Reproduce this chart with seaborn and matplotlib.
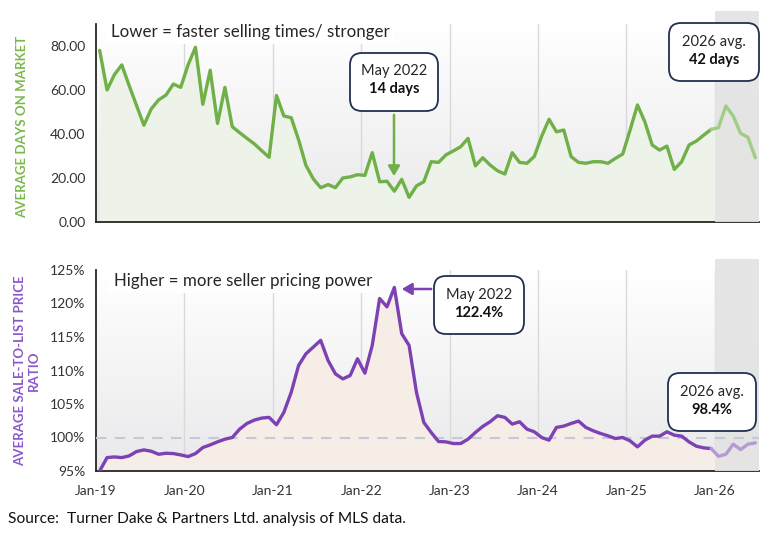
import numpy as np
import pandas as pd
import matplotlib
matplotlib.use('Agg')
import matplotlib.pyplot as plt
import seaborn as sns
from matplotlib.patches import FancyBboxPatch, FancyArrowPatch, Rectangle
from matplotlib.colors import LinearSegmentedColormap
from matplotlib.transforms import blended_transform_factory

# Monthly values, Jan 2019 - Jun 2026
days_on_market = [
    78, 60, 67, 71.4, 62, 53, 44, 51.4, 55.5, 57.7, 62.7, 61.2,
    71.4, 79.4, 53.5, 69, 44.8, 61.2, 43.3, 40.6, 38, 35.5, 32.4, 29.4,
    57.5, 48.2, 47.4, 37.4, 25.7, 19.6, 15.6, 17, 15.6, 20, 20.5, 21.5,
    21.2, 31.5, 18.3, 18.5, 14, 19.4, 11.2, 16.4, 18.3, 27.4, 27.1, 30.5,
    32.3, 34.2, 38, 25.5, 29.2, 25.9, 23.3, 21.8, 31.5, 27.1, 26.7, 29.8,
    39, 46.7, 41, 41.8, 29.7, 27.1, 26.7, 27.4, 27.4, 26.7, 28.9, 30.9,
    41.8, 53.2, 45.6, 35, 32.7, 34.5, 23.9, 27.4, 35, 36.8, 39.5, 42.1,
    42.9, 52.7, 48.2, 40.3, 38.5, 29.2,
]
sale_to_list = [
    95.0, 97.0, 97.1, 97.0, 97.25, 97.9, 98.15, 97.95, 97.5, 97.65, 97.6, 97.4,
    97.15, 97.6, 98.5, 98.9, 99.35, 99.75, 100.0, 101.25, 102.1, 102.6, 102.9, 103.0,
    101.9, 103.75, 106.75, 110.75, 112.5, 113.5, 114.5, 111.5, 109.5, 108.75, 109.25, 111.75,
    109.6, 113.75, 120.75, 119.5, 122.4, 115.5, 113.75, 106.75, 102.25, 100.75, 99.4, 99.35,
    99.1, 99.1, 99.75, 100.75, 101.65, 102.35, 103.25, 103.0, 102.0, 102.35, 101.25, 100.85,
    100.0, 99.6, 101.5, 101.7, 102.1, 102.45, 101.5, 101.0, 100.6, 100.25, 99.85, 100.0,
    99.5, 98.6, 99.6, 100.2, 100.2, 100.85, 100.35, 100.2, 99.35, 98.7, 98.45, 98.35,
    97.2, 97.5, 99.0, 98.2, 99.0, 99.2,
]
year_labels = ['Jan-19', 'Jan-20', 'Jan-21', 'Jan-22', 'Jan-23', 'Jan-24', 'Jan-25', 'Jan-26']
dom_ticks = [0, 20, 40, 60, 80]
ratio_ticks = [95, 100, 105, 110, 115, 120, 125]

df = pd.DataFrame({
    'm': np.arange(len(days_on_market)) + 0.5,
    'dom': days_on_market,
    'ratio': sale_to_list,
})
proj_start = 84  # Jan-26 index
hist = df[df['m'] < proj_start + 0.5]
proj = df[df['m'] > proj_start - 1]

sns.set_theme(style='white')
plt.rcParams['font.family'] = ['Lato', 'DejaVu Sans']

W, H = 777, 536
fig = plt.figure(figsize=(W / 100, H / 100), dpi=100)
fig.patch.set_facecolor('white')
bg_cmap = LinearSegmentedColormap.from_list('bg', ['#e9e9eb', '#ffffff'])


def px(x, y):
    return (x, H - y)


def setup_axis(ax, ylim, yticks):
    ax.set_xlim(0, 90)
    ax.set_ylim(*ylim)
    for s in ['top', 'right']:
        ax.spines[s].set_visible(False)
    for s in ['left', 'bottom']:
        ax.spines[s].set_color('#262626')
        ax.spines[s].set_linewidth(1.3)
    ax.set_xticks(np.arange(0, 90, 12))
    ax.set_yticks(yticks)
    ax.tick_params(axis='both', direction='inout', length=8, width=1.3, color='#262626',
                   labelsize=10, labelcolor='#333333')
    # gradient background
    grad = np.linspace(1, 0, 256).reshape(-1, 1)
    ax.imshow(grad, extent=[0, 90, ylim[0], ylim[1]], aspect='auto', cmap=bg_cmap,
              zorder=0, origin='upper')
    for xv in np.arange(12, 90, 12):
        ax.axvline(xv, color='#d9d9d9', lw=1, zorder=1)


def shade(ax, top):
    tr = blended_transform_factory(ax.transData, ax.transAxes)
    ax.add_patch(Rectangle((proj_start, 0), 90 - proj_start, top, transform=tr,
                           facecolor='#e3e3e3', edgecolor='none', alpha=0.9, zorder=3, clip_on=False))


def callout(cx, cy, w, h, line1, line2, y1, y2):
    box = FancyBboxPatch(px(cx - w / 2, cy + h / 2), w, h, transform=None,
                         boxstyle='round,pad=0,rounding_size=12', facecolor='white',
                         edgecolor='#1f3050', lw=1.3, zorder=10)
    fig.patches.append(box)
    fig.text(cx / W, 1 - y1 / H, line1, ha='center', va='center', fontsize=10.5, color='#262626', zorder=11)
    fig.text(cx / W, 1 - y2 / H, line2, ha='center', va='center', fontsize=10.5, color='#111111',
             fontweight='bold', zorder=11)


# ---- top panel: days on market
ax1 = fig.add_axes([96 / W, (H - 222) / H, 663 / W, 198 / H])
setup_axis(ax1, (0, 90), dom_ticks)
ax1.fill_between(df['m'], 0, df['dom'], color='#edf3e9', zorder=2, lw=0)
shade(ax1, 1.066)
sns.lineplot(data=hist, x='m', y='dom', ax=ax1, color='#6fb048', lw=2.4, zorder=5)
sns.lineplot(data=proj, x='m', y='dom', ax=ax1, color='#a2cc85', lw=2.4, zorder=5)
ax1.set_xlabel('')
ax1.set_ylabel('')
ax1.set_xticklabels([])
ax1.set_yticklabels([f'{v:.2f}' for v in dom_ticks])
ax1.text(2, 86.5, 'Lower = faster selling times/ stronger', fontsize=12.2, color='#262626',
         ha='left', va='center', zorder=6,
         bbox=dict(facecolor='white', edgecolor='none', pad=3))
fig.text(22 / W, 1 - 127 / H, 'AVERAGE DAYS ON MARKET', rotation=90, ha='center', va='center',
         fontsize=9.5, fontweight='bold', color='#7bb84d')

# ---- bottom panel: sale-to-list ratio
ax2 = fig.add_axes([96 / W, (H - 471) / H, 663 / W, 201 / H])
setup_axis(ax2, (95, 125), ratio_ticks)
ax2.fill_between(df['m'], 95, df['ratio'], color='#f7ede7', zorder=2, lw=0)
ax2.axhline(100, color='#c5c8d6', lw=1.5, ls=(0, (5, 4)), zorder=4)
shade(ax2, 1.055)
sns.lineplot(data=hist, x='m', y='ratio', ax=ax2, color='#7c42b4', lw=2.4, zorder=5)
sns.lineplot(data=proj, x='m', y='ratio', ax=ax2, color='#b59ad6', lw=2.4, zorder=5)
ax2.set_xlabel('')
ax2.set_ylabel('')
ax2.set_xticklabels(year_labels)
ax2.set_yticklabels([f'{v}%' for v in ratio_ticks])
ax2.tick_params(axis='x', pad=6)
ax2.text(2.4, 123.4, 'Higher = more seller pricing power', fontsize=12.2, color='#262626',
         ha='left', va='center', zorder=6,
         bbox=dict(facecolor='white', edgecolor='none', pad=3))
fig.text(27 / W, 1 - 371 / H, 'AVERAGE SALE-TO-LIST PRICE\nRATIO', rotation=90, ha='center',
         va='center', fontsize=9.5, fontweight='bold', color='#8a58c8', linespacing=1.1)

# ---- callouts
callout(394, 82, 88, 58, 'May 2022', '14 days', 71, 89)
callout(714, 52, 90, 58, '2026 avg.', '42 days', 42, 60)
callout(479, 305, 90, 58, 'May 2022', '122.4%', 295, 313)
callout(712, 402, 88, 58, '2026 avg.', '98.4%', 392, 410)

fig.add_artist(FancyArrowPatch(px(394, 112), px(394, 179), transform=None,
               arrowstyle='-|>,head_length=6,head_width=3.5', color='#6fb048', lw=1.8, zorder=12))
fig.add_artist(FancyArrowPatch(px(434, 289), px(399, 289), transform=None,
               arrowstyle='-|>,head_length=6,head_width=3.5', color='#7c42b4', lw=1.8, zorder=12))

fig.text(8 / W, 1 - 519 / H, 'Source:  Turner Dake & Partners Ltd. analysis of MLS data.',
         fontsize=11.2, color='#111111', ha='left', va='center')

fig.savefig('out.png', dpi=100)
